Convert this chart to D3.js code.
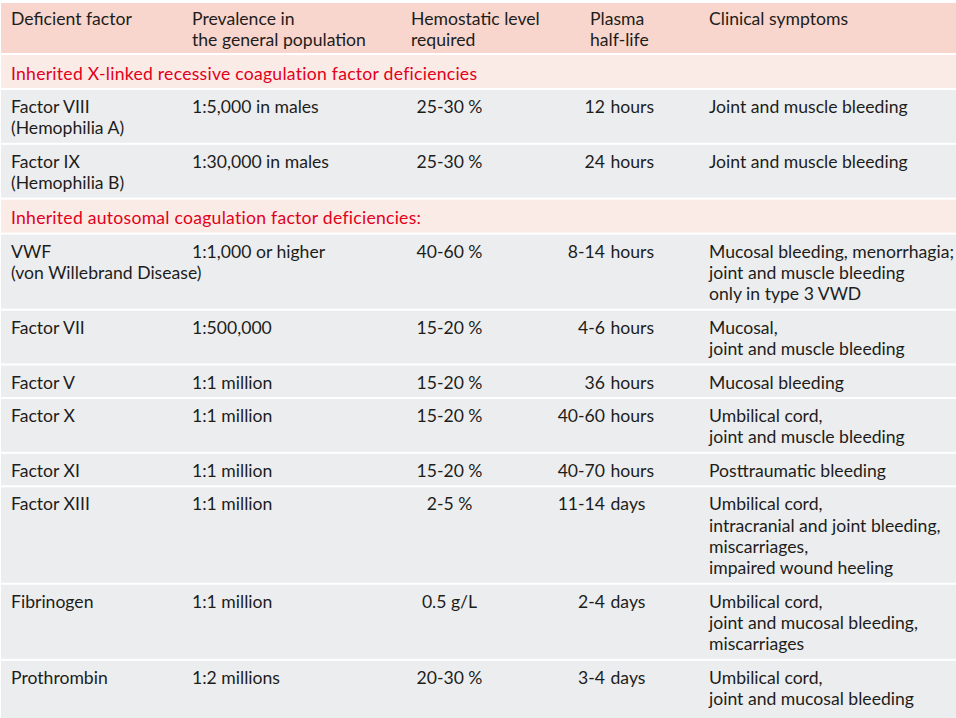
<!DOCTYPE html>
<html>
<head>
<meta charset="utf-8">
<script src="https://cdn.jsdelivr.net/npm/d3@7"></script>
<style>
  html, body { margin: 0; padding: 0; background: #ffffff; }
  svg { display: block; }
</style>
</head>
<body>
<svg id="chart" width="956" height="718"></svg>
<script>
// ---------- data ----------
const headers = [
  ["Deficient factor"],
  ["Prevalence in", "the general population"],
  ["Hemostatic level", "required"],
  ["Plasma", "half-life"],
  ["Clinical symptoms"]
];
const groupTitles = [
  "Inherited X-linked recessive coagulation factor deficiencies",
  "Inherited autosomal coagulation factor deficiencies:"
];
const factorGroup = [0, 0, 1, 1, 1, 1, 1, 1, 1, 1];
const factors = [
  ["Factor VIII", "(Hemophilia A)"],
  ["Factor IX", "(Hemophilia B)"],
  ["VWF", "(von Willebrand Disease)"],
  ["Factor VII"],
  ["Factor V"],
  ["Factor X"],
  ["Factor XI"],
  ["Factor XIII"],
  ["Fibrinogen"],
  ["Prothrombin"]
];
const prevalence = [
  "1:5,000 in males", "1:30,000 in males", "1:1,000 or higher", "1:500,000",
  "1:1 million", "1:1 million", "1:1 million", "1:1 million", "1:1 million", "1:2 millions"
];
const hemostaticLevel = [
  "25-30 %", "25-30 %", "40-60 %", "15-20 %", "15-20 %",
  "15-20 %", "15-20 %", "2-5 %", "0.5 g/L", "20-30 %"
];
const halfLife = [
  "12 hours", "24 hours", "8-14 hours", "4-6 hours", "36 hours",
  "40-60 hours", "40-70 hours", "11-14 days", "2-4 days", "3-4 days"
];
const symptoms = [
  ["Joint and muscle bleeding"],
  ["Joint and muscle bleeding"],
  ["Mucosal bleeding, menorrhagia;", "joint and muscle bleeding", "only in type 3 VWD"],
  ["Mucosal,", "joint and muscle bleeding"],
  ["Mucosal bleeding"],
  ["Umbilical cord,", "joint and muscle bleeding"],
  ["Posttraumatic bleeding"],
  ["Umbilical cord,", "intracranial and joint bleeding,", "miscarriages,", "impaired wound heeling"],
  ["Umbilical cord,", "joint and mucosal bleeding,", "miscarriages"],
  ["Umbilical cord,", "joint and mucosal bleeding"]
];

// ---------- style / layout ----------
const FONT = "Lato, 'Liberation Sans', sans-serif";
const FS = 17.6;
const LINE = 21.3;
const GAP = 2;
const TOP = 3;
const C = {
  header: "#f8d6cd",
  section: "#fbebe7",
  row: "#ecedef",
  text: "#1d1d1b",
  red: "#e2001a"
};
const colX = { c0: 11, c1: 192, c2h: 411, c2: 449.5, c3h: 590, c3split: 605, c5: 709 };
const tableX0 = 1, tableX1 = 956;

// build the list of rows
const rows = [];
rows.push({ type: "header" });
factors.forEach((f, i) => {
  if (i === 0 || factorGroup[i] !== factorGroup[i - 1]) rows.push({ type: "section", g: factorGroup[i] });
  rows.push({ type: "data", i });
});

function nLines(r) {
  if (r.type === "header") return 2;
  if (r.type === "section") return 1;
  return Math.max(factors[r.i].length, symptoms[r.i].length, 1);
}
function rowHeight(r) {
  if (r.type === "header") return 50;
  if (r.type === "section") return 33;
  return nLines(r) * LINE + 10.2;
}
let yAcc = TOP;
rows.forEach(r => { r.y = yAcc; r.h = rowHeight(r); yAcc += r.h + GAP; });
// last row runs off the bottom edge as in the original
rows[rows.length - 1].h += 20;

const svg = d3.select("#chart");
const x = d3.scaleLinear().domain([0, 1]).range([tableX0, tableX1]);

const g = svg.selectAll("g.row").data(rows).join("g")
  .attr("class", "row")
  .attr("transform", d => `translate(0,${d.y})`);

g.append("rect")
  .attr("x", x(0)).attr("width", x(1) - x(0))
  .attr("y", 0).attr("height", d => d.h)
  .attr("fill", d => d.type === "header" ? C.header : d.type === "section" ? C.section : C.row);

function addLines(sel, lines, xPos, base, anchor, color, spacing) {
  const t = sel.append("text")
    .attr("x", xPos).attr("y", base)
    .attr("text-anchor", anchor)
    .attr("fill", color || C.text)
    .style("font-family", FONT).style("font-size", FS + "px");
  if (spacing) t.style("letter-spacing", spacing + "px");
  lines.forEach((l, k) => {
    t.append("tspan").attr("x", xPos).attr("y", base + k * LINE).text(l);
  });
}

// header
const hdr = g.filter(d => d.type === "header");
const hx = [colX.c0, colX.c1, colX.c2h, colX.c3h, colX.c5];
headers.forEach((h, k) => addLines(hdr, h, hx[k], 21.5, "start"));

// sections
g.filter(d => d.type === "section").each(function (d) {
  addLines(d3.select(this), [groupTitles[d.g]], colX.c0, 24.5, "start", C.red, 0.25);
});

// data rows
g.filter(d => d.type === "data").each(function (d) {
  const s = d3.select(this);
  const i = d.i, base = 23;
  addLines(s, factors[i], colX.c0, base, "start");
  addLines(s, [prevalence[i]], colX.c1, base, "start");
  addLines(s, [hemostaticLevel[i]], colX.c2, base, "middle");
  const parts = halfLife[i].split(" ");
  addLines(s, [parts[0]], colX.c3split, base, "end");
  addLines(s, [parts.slice(1).join(" ")], colX.c3split + 5.5, base, "start");
  addLines(s, symptoms[i], colX.c5, base, "start");
});
</script>
</body>
</html>
